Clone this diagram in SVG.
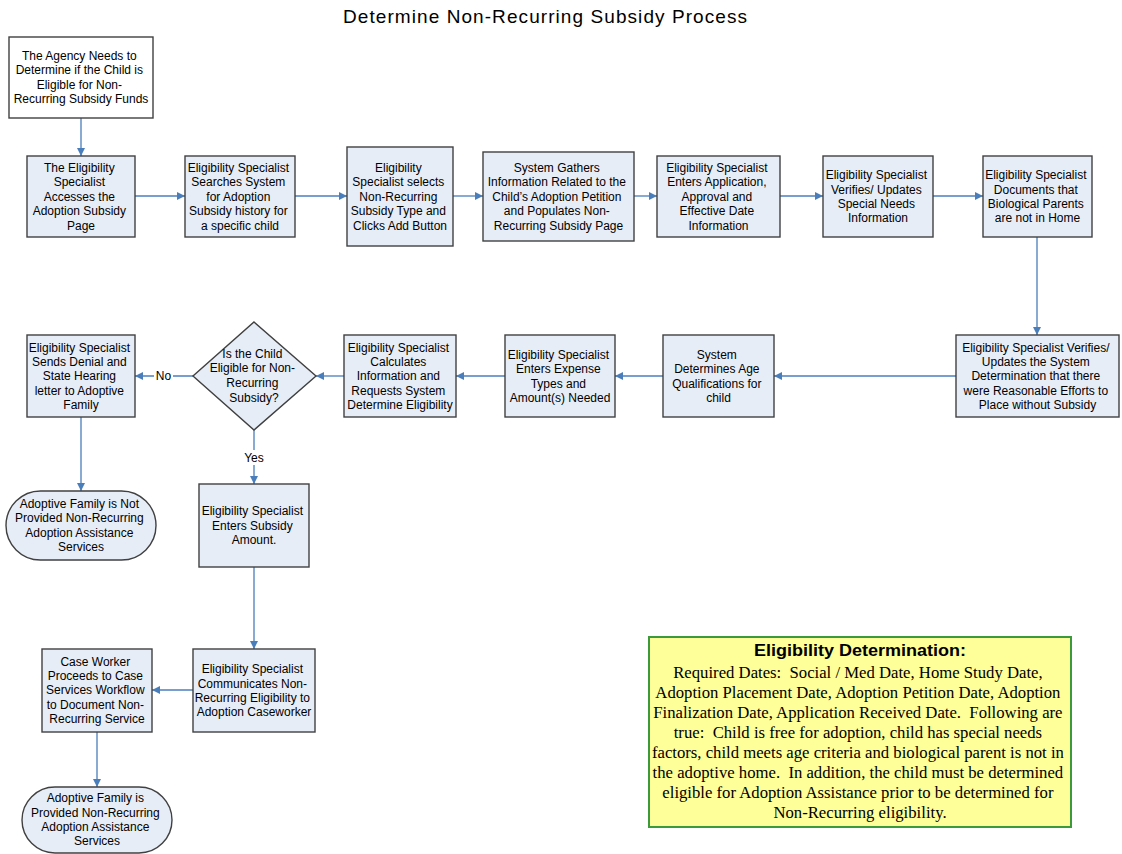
<svg xmlns="http://www.w3.org/2000/svg" width="1122" height="854" viewBox="0 0 1122 854">
  <style>
    .box { fill: #E7EDF7; stroke: #404040; stroke-width: 1.4; }
    .start { fill: #FFFFFF; stroke: #404040; stroke-width: 1.4; }
    .t { font-family: "Liberation Sans", Arial, sans-serif; font-size: 12px; fill: #000; text-anchor: middle; }
    .conn { fill: none; stroke: #4A7EBB; stroke-width: 1.3; marker-end: url(#arrow); }
    .lbl-bg { fill: #FFFFFF; }
    .note { fill: #FFFF99; stroke: #3C9A3C; stroke-width: 2; }
    .note-h { font-family: "Liberation Sans", Arial, sans-serif; font-size: 17px; font-weight: bold; text-anchor: middle; }
    .note-b { font-family: "Liberation Serif", "Times New Roman", serif; font-size: 16.7px; text-anchor: middle; }
    .title { font-family: "Liberation Sans", Arial, sans-serif; font-size: 19px; text-anchor: middle; }
  </style>
  <defs>
    <marker id="arrow" viewBox="0 0 10 10" refX="10" refY="5" markerUnits="userSpaceOnUse" markerWidth="9" markerHeight="8" orient="auto">
      <path d="M0,0 L10,5 L0,10 z" fill="#4A7EBB"/>
    </marker>
  </defs>

  <rect width="1122" height="854" fill="#FFFFFF"/>

  <text class="title" x="545" y="23" textLength="404" lengthAdjust="spacing">Determine Non-Recurring Subsidy Process</text>

  <!-- connectors -->
  <g id="connectors">
    <line class="conn" x1="81" y1="118" x2="81" y2="156"/>
    <line class="conn" x1="135" y1="196" x2="185" y2="196"/>
    <line class="conn" x1="295" y1="196" x2="347" y2="196"/>
    <line class="conn" x1="453" y1="196" x2="483" y2="196"/>
    <line class="conn" x1="634" y1="196" x2="657" y2="196"/>
    <line class="conn" x1="780" y1="196" x2="823" y2="196"/>
    <line class="conn" x1="933" y1="196" x2="983" y2="196"/>
    <line class="conn" x1="1037" y1="237" x2="1037" y2="335"/>
    <line class="conn" x1="956" y1="376" x2="774" y2="376"/>
    <line class="conn" x1="663" y1="376" x2="615" y2="376"/>
    <line class="conn" x1="505" y1="376" x2="456" y2="376"/>
    <line class="conn" x1="344" y1="376" x2="316" y2="376"/>
    <line class="conn" x1="193" y1="376" x2="135" y2="376"/>
    <line class="conn" x1="81" y1="417" x2="81" y2="491"/>
    <line class="conn" x1="254" y1="430" x2="254" y2="484"/>
    <line class="conn" x1="254" y1="567" x2="254" y2="649"/>
    <line class="conn" x1="193" y1="690" x2="152" y2="690"/>
    <line class="conn" x1="97" y1="732" x2="97" y2="787"/>
    <g id="label-no">
      <rect class="lbl-bg" x="154" y="368" width="19" height="15"/>
      <text class="t" x="163.5" y="380">No</text>
    </g>
    <g id="label-yes">
      <rect class="lbl-bg" x="242" y="450" width="24" height="15"/>
      <text class="t" x="254" y="461.5">Yes</text>
    </g>
  </g>

  <g id="start">
    <rect class="start" x="9" y="37" width="144" height="81"/>
    <text class="t" x="81" y="59.7">
      <tspan x="81">The Agency Needs to</tspan>
      <tspan x="81" dy="14.4">Determine if the Child is</tspan>
      <tspan x="81" dy="14.4">Eligible for Non-</tspan>
      <tspan x="81" dy="14.4">Recurring Subsidy Funds</tspan>
    </text>
  </g>

  <g id="access-page">
    <rect class="box" x="27" y="156" width="108" height="81"/>
    <text class="t" x="81" y="172">
      <tspan x="81">The Eligibility</tspan>
      <tspan x="81" dy="14.4">Specialist</tspan>
      <tspan x="81" dy="14.4">Accesses the</tspan>
      <tspan x="81" dy="14.4">Adoption Subsidy</tspan>
      <tspan x="81" dy="14.4">Page</tspan>
    </text>
  </g>

  <g id="search-history">
    <rect class="box" x="185" y="156" width="110" height="81"/>
    <text class="t" x="240" y="172">
      <tspan x="240">Eligibility Specialist</tspan>
      <tspan x="240" dy="14.4">Searches System</tspan>
      <tspan x="240" dy="14.4">for Adoption</tspan>
      <tspan x="240" dy="14.4">Subsidy history for</tspan>
      <tspan x="240" dy="14.4">a specific child</tspan>
    </text>
  </g>

  <g id="select-type">
    <rect class="box" x="347" y="147" width="106" height="99"/>
    <text class="t" x="400" y="172">
      <tspan x="400">Eligibility</tspan>
      <tspan x="400" dy="14.4">Specialist selects</tspan>
      <tspan x="400" dy="14.4">Non-Recurring</tspan>
      <tspan x="400" dy="14.4">Subsidy Type and</tspan>
      <tspan x="400" dy="14.4">Clicks Add Button</tspan>
    </text>
  </g>

  <g id="gather-info">
    <rect class="box" x="483" y="152" width="151" height="89"/>
    <text class="t" x="558.5" y="172">
      <tspan x="558.5">System Gathers</tspan>
      <tspan x="558.5" dy="14.4">Information Related to the</tspan>
      <tspan x="558.5" dy="14.4">Child’s Adoption Petition</tspan>
      <tspan x="558.5" dy="14.4">and Populates Non-</tspan>
      <tspan x="558.5" dy="14.4">Recurring Subsidy Page</tspan>
    </text>
  </g>

  <g id="enter-dates">
    <rect class="box" x="657" y="156" width="123" height="81"/>
    <text class="t" x="718.5" y="172">
      <tspan x="718.5">Eligibility Specialist</tspan>
      <tspan x="718.5" dy="14.4">Enters Application,</tspan>
      <tspan x="718.5" dy="14.4">Approval and</tspan>
      <tspan x="718.5" dy="14.4">Effective Date</tspan>
      <tspan x="718.5" dy="14.4">Information</tspan>
    </text>
  </g>

  <g id="special-needs">
    <rect class="box" x="823" y="156" width="110" height="81"/>
    <text class="t" x="878" y="179.2">
      <tspan x="878">Eligibility Specialist</tspan>
      <tspan x="878" dy="14.4">Verifies/ Updates</tspan>
      <tspan x="878" dy="14.4">Special Needs</tspan>
      <tspan x="878" dy="14.4">Information</tspan>
    </text>
  </g>

  <g id="bio-parents">
    <rect class="box" x="983" y="156" width="109" height="81"/>
    <text class="t" x="1037.5" y="179.2">
      <tspan x="1037.5">Eligibility Specialist</tspan>
      <tspan x="1037.5" dy="14.4">Documents that</tspan>
      <tspan x="1037.5" dy="14.4">Biological Parents</tspan>
      <tspan x="1037.5" dy="14.4">are not in Home</tspan>
    </text>
  </g>

  <g id="reasonable-efforts">
    <rect class="box" x="956" y="335" width="163" height="82"/>
    <text class="t" x="1037.5" y="351.5">
      <tspan x="1037.5">Eligibility Specialist Verifies/</tspan>
      <tspan x="1037.5" dy="14.4">Updates the System</tspan>
      <tspan x="1037.5" dy="14.4">Determination that there</tspan>
      <tspan x="1037.5" dy="14.4">were Reasonable Efforts to</tspan>
      <tspan x="1037.5" dy="14.4">Place without Subsidy</tspan>
    </text>
  </g>

  <g id="age-qualifications">
    <rect class="box" x="663" y="335" width="111" height="82"/>
    <text class="t" x="718.5" y="358.7">
      <tspan x="718.5">System</tspan>
      <tspan x="718.5" dy="14.4">Determines Age</tspan>
      <tspan x="718.5" dy="14.4">Qualifications for</tspan>
      <tspan x="718.5" dy="14.4">child</tspan>
    </text>
  </g>

  <g id="expense-types">
    <rect class="box" x="505" y="335" width="110" height="82"/>
    <text class="t" x="560" y="358.7">
      <tspan x="560">Eligibility Specialist</tspan>
      <tspan x="560" dy="14.4">Enters Expense</tspan>
      <tspan x="560" dy="14.4">Types and</tspan>
      <tspan x="560" dy="14.4">Amount(s) Needed</tspan>
    </text>
  </g>

  <g id="calculate">
    <rect class="box" x="344" y="335" width="112" height="82"/>
    <text class="t" x="400" y="351.5">
      <tspan x="400">Eligibility Specialist</tspan>
      <tspan x="400" dy="14.4">Calculates</tspan>
      <tspan x="400" dy="14.4">Information and</tspan>
      <tspan x="400" dy="14.4">Requests System</tspan>
      <tspan x="400" dy="14.4">Determine Eligibility</tspan>
    </text>
  </g>

  <g id="eligible-decision">
    <polygon class="box" points="254,322 316,376 254,430 193,376"/>
    <text class="t" x="254" y="357.5">
      <tspan x="254">Is the Child</tspan>
      <tspan x="254" dy="14.7">Eligible for Non-</tspan>
      <tspan x="254" dy="14.7">Recurring</tspan>
      <tspan x="254" dy="14.7">Subsidy?</tspan>
    </text>
  </g>

  <g id="denial-letter">
    <rect class="box" x="27" y="335" width="108" height="82"/>
    <text class="t" x="81" y="351.5">
      <tspan x="81">Eligibility Specialist</tspan>
      <tspan x="81" dy="14.4">Sends Denial and</tspan>
      <tspan x="81" dy="14.4">State Hearing</tspan>
      <tspan x="81" dy="14.4">letter to Adoptive</tspan>
      <tspan x="81" dy="14.4">Family</tspan>
    </text>
  </g>

  <g id="not-provided">
    <rect class="box" x="6" y="491" width="150" height="69" rx="34.5" ry="34.5"/>
    <text class="t" x="81" y="508">
      <tspan x="81">Adoptive Family is Not</tspan>
      <tspan x="81" dy="14.4">Provided Non-Recurring</tspan>
      <tspan x="81" dy="14.4">Adoption Assistance</tspan>
      <tspan x="81" dy="14.4">Services</tspan>
    </text>
  </g>

  <g id="subsidy-amount">
    <rect class="box" x="199" y="484" width="110" height="83"/>
    <text class="t" x="254" y="515.4">
      <tspan x="254">Eligibility Specialist</tspan>
      <tspan x="254" dy="14.4">Enters Subsidy</tspan>
      <tspan x="254" dy="14.4">Amount.</tspan>
    </text>
  </g>

  <g id="communicate">
    <rect class="box" x="193" y="649" width="122" height="83"/>
    <text class="t" x="254" y="673.2">
      <tspan x="254">Eligibility Specialist</tspan>
      <tspan x="254" dy="14.4">Communicates Non-</tspan>
      <tspan x="254" dy="14.4">Recurring Eligibility to</tspan>
      <tspan x="254" dy="14.4">Adoption Caseworker</tspan>
    </text>
  </g>

  <g id="case-worker">
    <rect class="box" x="42" y="649" width="110" height="83"/>
    <text class="t" x="97" y="665.5">
      <tspan x="97">Case Worker</tspan>
      <tspan x="97" dy="14.4">Proceeds to Case</tspan>
      <tspan x="97" dy="14.4">Services Workflow</tspan>
      <tspan x="97" dy="14.4">to Document Non-</tspan>
      <tspan x="97" dy="14.4">Recurring Service</tspan>
    </text>
  </g>

  <g id="provided">
    <rect class="box" x="22" y="787" width="150" height="66" rx="33" ry="33"/>
    <text class="t" x="97" y="802.2">
      <tspan x="97">Adoptive Family is</tspan>
      <tspan x="97" dy="14.4">Provided Non-Recurring</tspan>
      <tspan x="97" dy="14.4">Adoption Assistance</tspan>
      <tspan x="97" dy="14.4">Services</tspan>
    </text>
  </g>

  <g id="eligibility-note">
    <rect class="note" x="649" y="637" width="422" height="190"/>
    <text class="note-h" x="860" y="656" textLength="212" lengthAdjust="spacingAndGlyphs">Eligibility Determination:</text>
    <text class="note-b" x="860" y="678">
      <tspan x="860">Required Dates: &#160;Social / Med Date, Home Study Date,</tspan>
      <tspan x="860" dy="20">Adoption Placement Date, Adoption Petition Date, Adoption</tspan>
      <tspan x="860" dy="20">Finalization Date, Application Received Date. &#160;Following are</tspan>
      <tspan x="860" dy="20">true: &#160;Child is free for adoption, child has special needs</tspan>
      <tspan x="860" dy="20">factors, child meets age criteria and biological parent is not in</tspan>
      <tspan x="860" dy="20">the adoptive home. &#160;In addition, the child must be determined</tspan>
      <tspan x="860" dy="20">eligible for Adoption Assistance prior to be determined for</tspan>
      <tspan x="860" dy="20">Non-Recurring eligibility.</tspan>
    </text>
  </g>
</svg>
